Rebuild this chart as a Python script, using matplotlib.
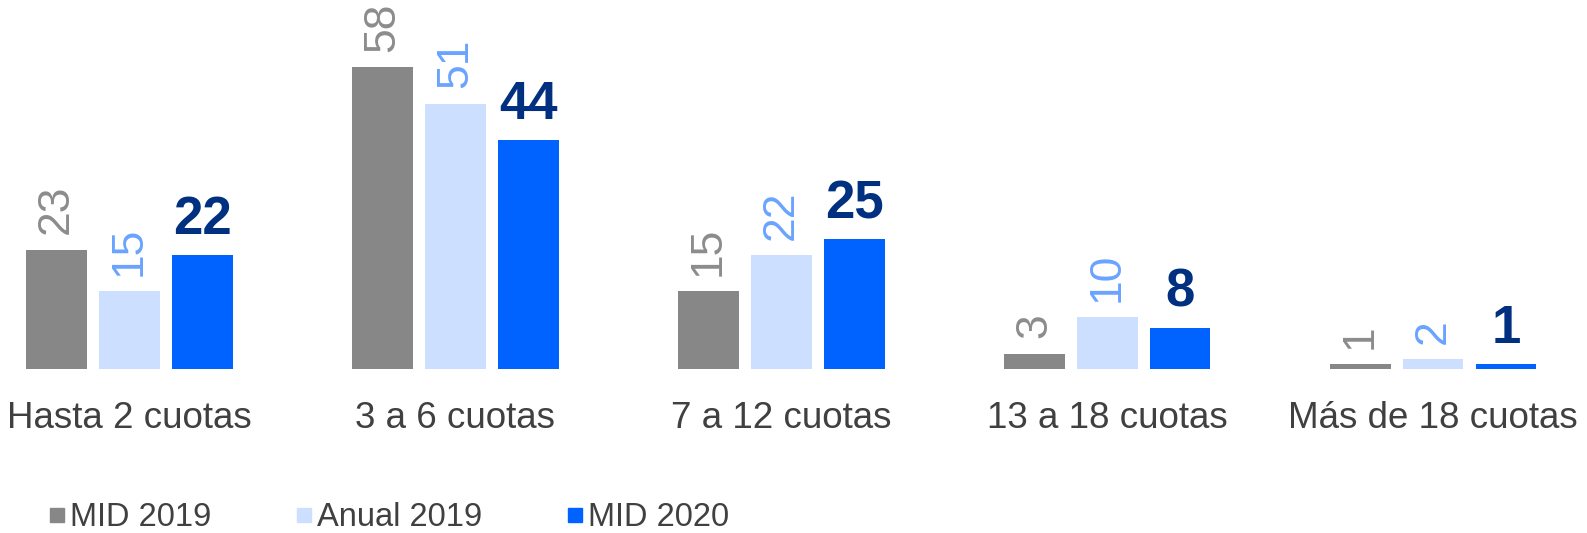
import matplotlib
matplotlib.use("Agg")
import matplotlib.pyplot as plt
from matplotlib.lines import Line2D
import numpy as np

plt.rcParams['font.family'] = ['Liberation Sans', 'DejaVu Sans']

# Data
categories = ["Hasta 2 cuotas", "3 a 6 cuotas", "7 a 12 cuotas", "13 a 18 cuotas", "Más de 18 cuotas"]
series_names = ["MID 2019", "Anual 2019", "MID 2020"]
mid_2019 = [23, 58, 15, 3, 1]
anual_2019 = [15, 51, 22, 10, 2]
mid_2020 = [22, 44, 25, 8, 1]

bar_colors = ["#878787", "#CCDFFF", "#0062FF"]
label_colors = ["#8C8C8C", "#6AA3FF", "#00307F"]

fig = plt.figure(figsize=(15.87, 5.33), dpi=100)
ax = fig.add_axes([0, 0.307, 1, 0.684])

x = np.arange(len(categories))
width = 0.186
step = 0.2236

for i, vals in enumerate([mid_2019, anual_2019, mid_2020]):
    pos = x + (i - 1) * step
    ax.bar(pos, vals, width, color=bar_colors[i], label=series_names[i])
    for p, v in zip(pos, vals):
        if i < 2:
            ax.annotate(str(v), (p, v), xytext=(0, 11), textcoords="offset points",
                        ha="center", va="bottom", rotation=90,
                        fontsize=32, color=label_colors[i])
        else:
            ax.annotate(str(v), (p, v), xytext=(0, 7), textcoords="offset points",
                        ha="center", va="bottom", fontsize=38,
                        fontweight="bold", color=label_colors[i])

ax.set_xlim(-0.3975, 4.472)
ax.set_ylim(0, 70)
ax.set_xticks(x)
ax.set_xticklabels(categories, fontsize=26.5, color="#404040")
ax.tick_params(axis="x", length=0, pad=23)
ax.set_yticks([])
for s in ax.spines.values():
    s.set_visible(False)

handles = [Line2D([], [], linestyle="none", marker="s", markersize=10.5,
                  color=c) for c in bar_colors]
fig.legend(handles, series_names, loc="lower left", bbox_to_anchor=(0.011, -0.055),
           ncol=3, frameon=False, fontsize=23.5, handlelength=0.6,
           handletextpad=0.1, columnspacing=2.55, labelcolor="#404040")

fig.savefig("out.png", dpi=100)
